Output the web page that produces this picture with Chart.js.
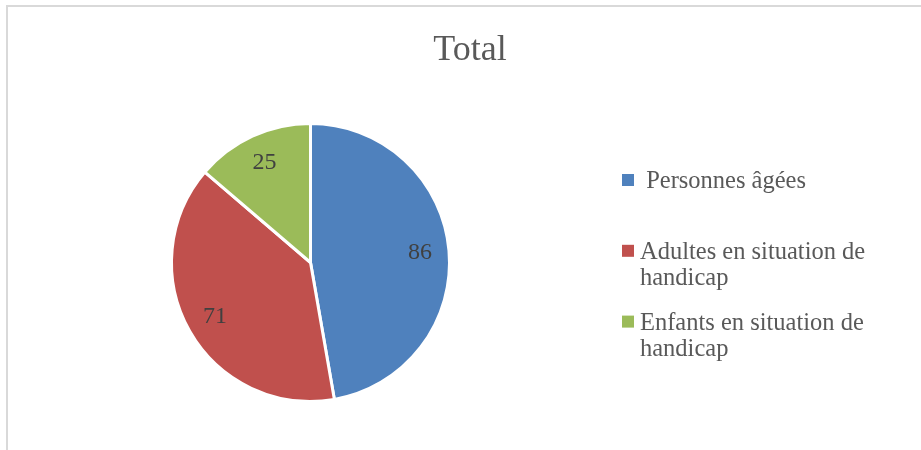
<!DOCTYPE html>
<html lang="fr">
<head>
  <meta charset="UTF-8">
  <title>Total</title>
  <script src="https://cdn.jsdelivr.net/npm/chart.js"></script>
  <style>
    html, body {
      margin: 0;
      padding: 0;
      background: #ffffff;
    }
    #wrap {
      position: relative;
      width: 921px;
      height: 450px;
    }
  </style>
</head>
<body>
  <div id="wrap">
    <canvas id="pie-chart" width="921" height="450"></canvas>
  </div>

  <script>
    const chartTitle = 'Total';
    const categories = [' Personnes âgées', 'Adultes en situation de handicap', 'Enfants en situation de handicap'];
    const values = [86, 71, 25];
    const colors = ['#4F81BD', '#C0504D', '#9BBB59'];

    const serif = '"Liberation Serif", "DejaVu Serif", serif';

    // wrap a label into lines no wider than maxWidth (keeps a leading space)
    function wrapText(ctx, text, maxWidth) {
      const words = text.split(' ');
      const lines = [];
      let line = null;
      words.forEach(w => {
        if (line === null) { line = w; return; }
        const test = line + ' ' + w;
        if (ctx.measureText(test).width > maxWidth && line.trim() !== '') {
          lines.push(line);
          line = w;
        } else {
          line = test;
        }
      });
      lines.push(line);
      return lines;
    }

    // frame, title, data labels and legend, Excel style
    const decorPlugin = {
      id: 'decor',
      beforeDraw(chart) {
        const ctx = chart.ctx;
        ctx.save();
        ctx.fillStyle = '#d9d9d9';
        ctx.fillRect(6, 5, chart.width - 6, 2);
        ctx.fillRect(6, 5, 2, chart.height - 5);
        ctx.restore();
      },
      afterDraw(chart) {
        const ctx = chart.ctx;
        ctx.save();

        // title
        ctx.fillStyle = '#595959';
        ctx.font = '36px ' + serif;
        ctx.textAlign = 'center';
        ctx.textBaseline = 'alphabetic';
        ctx.fillText(chartTitle, 470, 60);

        // values on slices
        const meta = chart.getDatasetMeta(0);
        ctx.fillStyle = '#404040';
        ctx.font = '24px ' + serif;
        ctx.textBaseline = 'middle';
        meta.data.forEach((arc, i) => {
          const p = arc.getProps(['x', 'y', 'startAngle', 'endAngle', 'outerRadius'], true);
          const mid = (p.startAngle + p.endAngle) / 2;
          const r = p.outerRadius * 0.79;
          ctx.fillText(String(values[i]), p.x + Math.cos(mid) * r, p.y + Math.sin(mid) * r);
        });

        // legend
        ctx.textAlign = 'left';
        ctx.textBaseline = 'alphabetic';
        ctx.font = '24.5px ' + serif;
        let centerY = 180;
        categories.forEach((label, i) => {
          ctx.fillStyle = colors[i];
          ctx.fillRect(622, centerY - 6, 12, 12);
          ctx.fillStyle = '#595959';
          const lines = wrapText(ctx, label, 240);
          lines.forEach((ln, j) => {
            ctx.fillText(ln, 640, centerY + 8 + j * 26);
          });
          centerY += 70.8;
        });

        ctx.restore();
      }
    };

    new Chart(document.getElementById('pie-chart'), {
      type: 'pie',
      data: {
        labels: categories,
        datasets: [{
          data: values,
          backgroundColor: colors,
          borderColor: '#ffffff',
          borderWidth: 3
        }]
      },
      options: {
        responsive: false,
        animation: false,
        layout: {
          padding: { left: 170, top: 122, right: 470, bottom: 47 }
        },
        plugins: {
          legend: { display: false },
          tooltip: { enabled: false },
          title: { display: false }
        }
      },
      plugins: [decorPlugin]
    });
  </script>
</body>
</html>
